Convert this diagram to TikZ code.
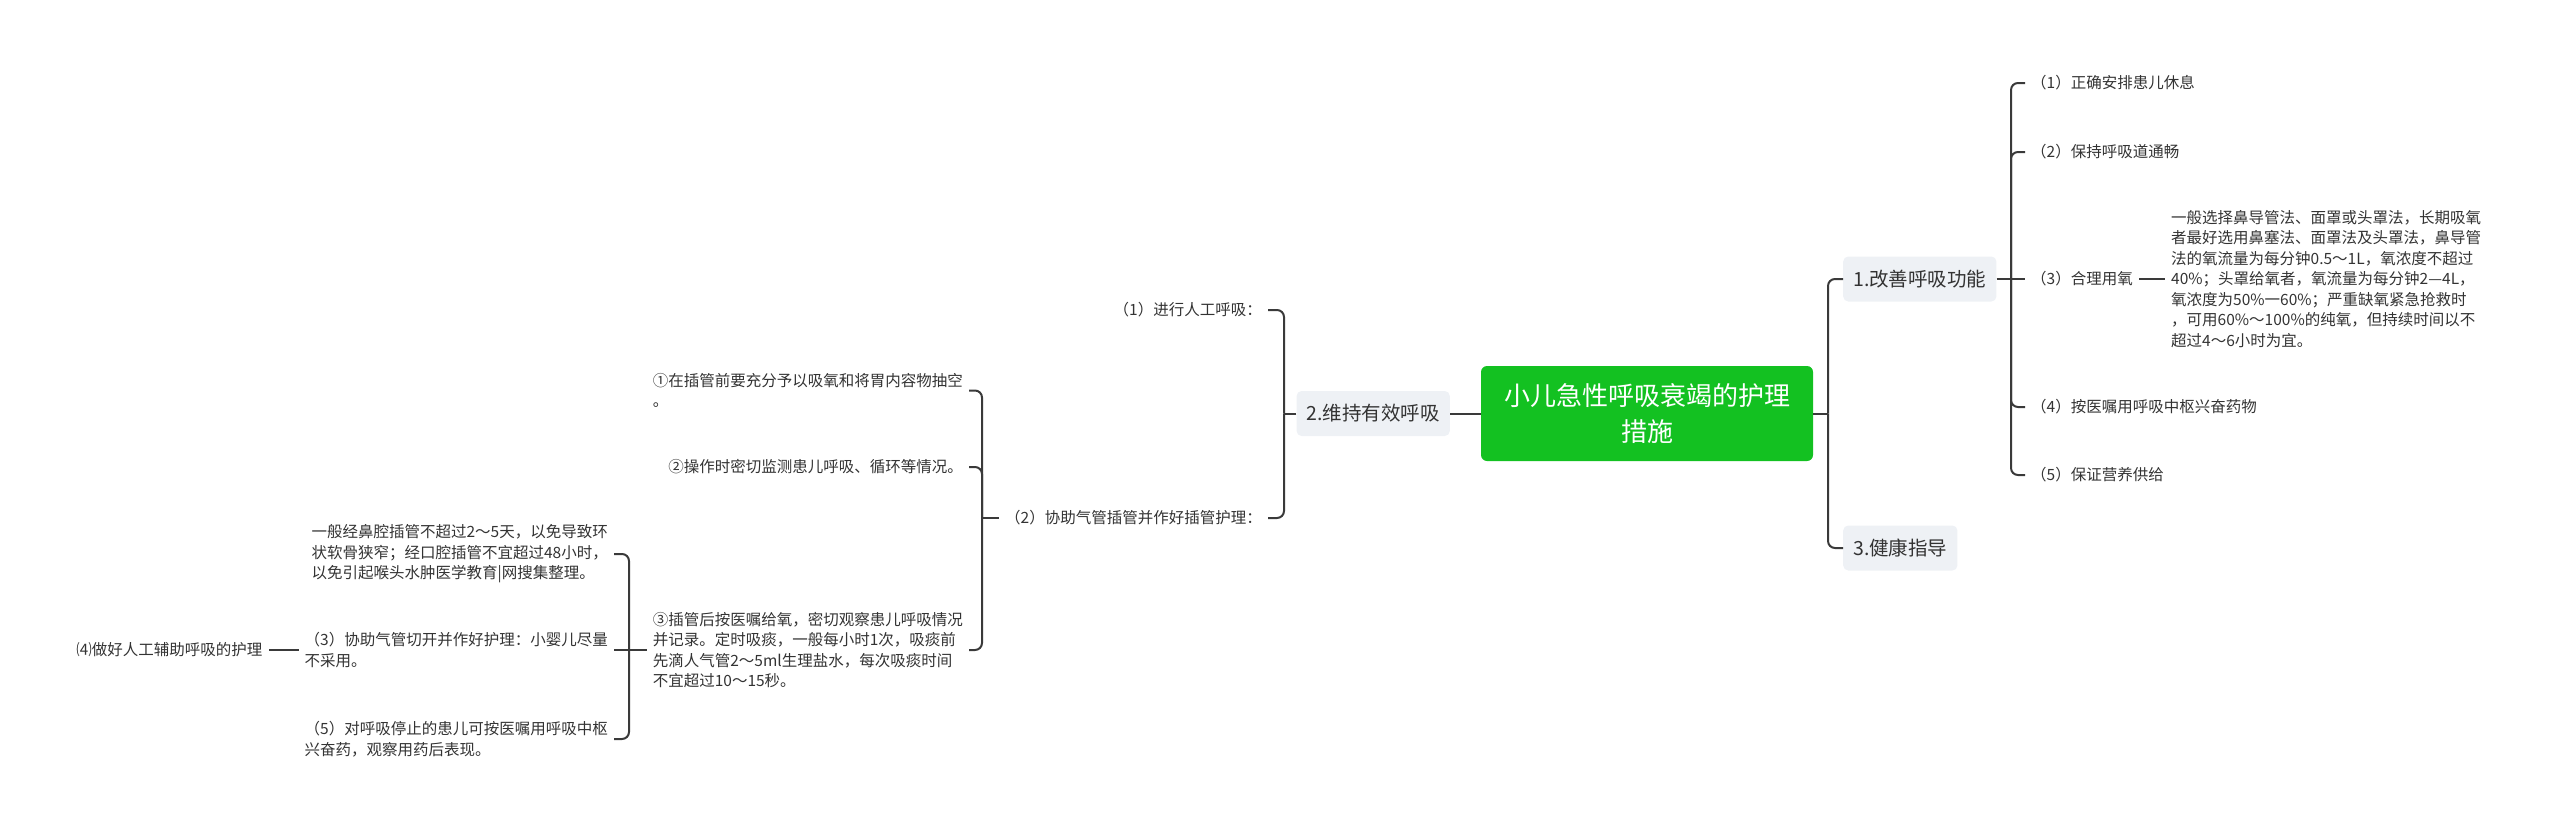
\documentclass[tikz,border=0pt]{standalone}
\usepackage{fontspec}
\usetikzlibrary{positioning}
\newfontfamily\cjk{Noto Sans CJK SC}
\definecolor{rootgreen}{HTML}{13C121}
\definecolor{subfill}{HTML}{EEF1F5}
\definecolor{inkgray}{HTML}{333333}
\definecolor{linegray}{HTML}{3A3A3A}
\tikzstyle{root}=[shape=rectangle, rounded corners=6pt, fill=rootgreen,
                  text=white, minimum width=332pt, minimum height=95pt,
                  align=center, font=\cjk\fontsize{26}{36}\selectfont]
\tikzstyle{sub}=[shape=rectangle, rounded corners=5pt, fill=subfill,
                  text=inkgray, minimum height=45pt, inner xsep=10pt,
                  font=\cjk\fontsize{19.5}{24}\selectfont]
\tikzstyle{leaf}=[shape=rectangle, text=inkgray, inner xsep=6pt,
                  inner ysep=2pt, align=left,
                  font=\cjk\fontsize{15.5}{20.5}\selectfont]
\tikzstyle{link}=[draw=linegray, line width=2pt, rounded corners=7pt]

\begin{document}
\begin{tikzpicture}[x=1pt, y=-1pt]
\useasboundingbox (0,0) rectangle (2560,833);

% nodes
\node[root] (root) at (1647,413.5) {小儿急性呼吸衰竭的护理\\措施};
\node[sub, anchor=west] (n1) at (1843,279) {1.改善呼吸功能};
\node[sub, anchor=west] (n3) at (1843,548) {3.健康指导};
\node[sub, anchor=east] (n2) at (1450,413.5) {2.维持有效呼吸};

\node[leaf, anchor=west] (a1) at (2025,83) {（1）正确安排患儿休息};
\node[leaf, anchor=west] (a2) at (2025,152) {（2）保持呼吸道通畅};
\node[leaf, anchor=west] (a3) at (2025,279) {（3）合理用氧};
\node[leaf, anchor=west] (a4) at (2025,407) {（4）按医嘱用呼吸中枢兴奋药物};
\node[leaf, anchor=west] (a5) at (2025,475) {（5）保证营养供给};
\node[leaf, right=26pt of a3] (a3x) {一般选择鼻导管法、面罩或头罩法，长期吸氧\\
  者最好选用鼻塞法、面罩法及头罩法，鼻导管\\
  法的氧流量为每分钟0.5～1L，氧浓度不超过\\
  40\%；头罩给氧者，氧流量为每分钟2—4L，\\
  氧浓度为50\%一60\%；严重缺氧紧急抢救时\\
  ，可用60\%～100\%的纯氧，但持续时间以不\\
  超过4～6小时为宜。};

\node[leaf, anchor=east] (b1) at (1268,310) {（1）进行人工呼吸：};
\node[leaf, anchor=east] (b2) at (1268,518) {（2）协助气管插管并作好插管护理：};

\node[leaf, anchor=east] (c1) at (969,390.5) {①在插管前要充分予以吸氧和将胃内容物抽空\\。};
\node[leaf, anchor=east] (c2) at (969,467) {②操作时密切监测患儿呼吸、循环等情况。};
\node[leaf, anchor=east] (c3) at (969,650) {③插管后按医嘱给氧，密切观察患儿呼吸情况\\
  并记录。定时吸痰，一般每小时1次，吸痰前\\
  先滴人气管2～5ml生理盐水，每次吸痰时间\\
  不宜超过10～15秒。};

\node[leaf, anchor=east] (d1) at (614,554) {一般经鼻腔插管不超过2～5天，以免导致环\\
  状软骨狭窄；经口腔插管不宜超过48小时，\\
  以免引起喉头水肿医学教育|网搜集整理。};
\node[leaf, anchor=east] (d3) at (614,650) {（3）协助气管切开并作好护理：小婴儿尽量\\不采用。};
\node[leaf, anchor=east] (d5) at (614,739) {（5）对呼吸停止的患儿可按医嘱用呼吸中枢\\兴奋药，观察用药后表现。};
\node[leaf, left=30pt of d3] (d4) {⑷做好人工辅助呼吸的护理};

% junctions
\coordinate (j0) at (1828,413.5);
\coordinate (j1) at (2011,279);
\coordinate (jl) at (1284,413.5);
\coordinate (j22) at (982,518);
\coordinate (j23) at (629,650);

% paths
\draw[link] (root.east) -- (j0);
\draw[link] (j0) |- (n1.west);
\draw[link] (j0) |- (n3.west);
\draw[link] (n1.east) -- (j1);
\draw[link] (j1) |- (a1.west);
\draw[link] (j1) |- (a2.west);
\draw[link] (j1) -- (a3.west);
\draw[link] (j1) |- (a4.west);
\draw[link] (j1) |- (a5.west);
\draw[link] (a3.east) -- (a3x.west);

\draw[link] (root.west) -- (n2.east);
\draw[link] (n2.west) -- (jl);
\draw[link] (jl) |- (b1.east);
\draw[link] (jl) |- (b2.east);
\draw[link] (b2.west) -- (j22);
\draw[link] (j22) |- (c1.east);
\draw[link] (j22) |- (c2.east);
\draw[link] (j22) |- (c3.east);
\draw[link] (c3.west) -- (j23);
\draw[link] (j23) |- (d1.east);
\draw[link] (j23) -- (d3.east);
\draw[link] (j23) |- (d5.east);
\draw[link] (d3.west) -- (d4.east);

\end{tikzpicture}
\end{document}
